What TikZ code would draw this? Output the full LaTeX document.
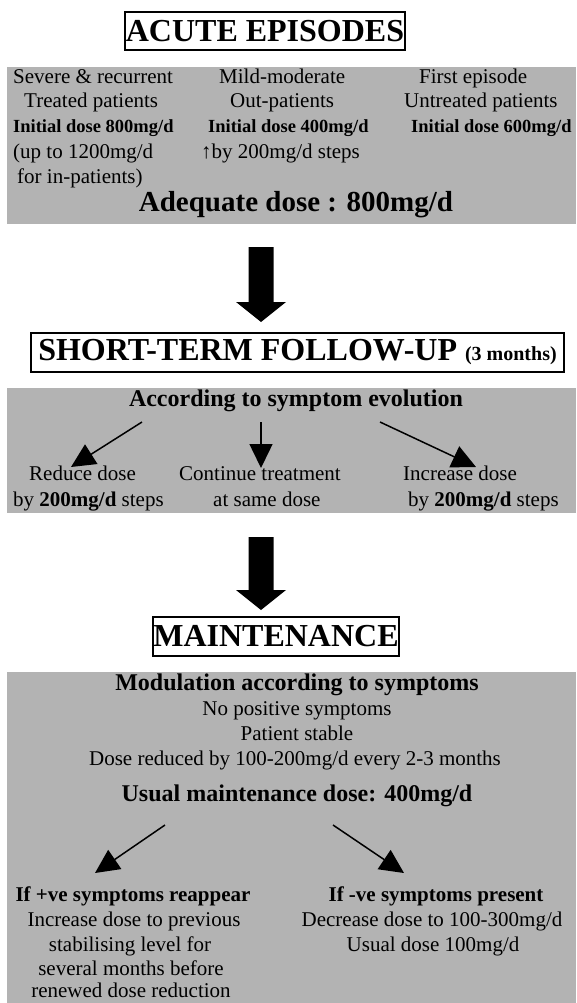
\documentclass[tikz,border=0pt]{standalone}
\usepackage{fontspec}
\setmainfont{Liberation Serif}
\usetikzlibrary{arrows.meta}
\definecolor{boxgray}{RGB}{179,179,179}
\begin{document}
\begin{tikzpicture}[x=1pt,y=-1pt,
  panel/.style={fill=boxgray, draw=none, anchor=north west, inner sep=0pt, outer sep=0pt},
  titlebox/.style={draw=black, line width=2pt, inner sep=0pt, font=\bfseries\fontsize{32}{36}\selectfont},
  txt/.style={inner sep=0pt, text height=0.68em, text depth=0pt},
  reg/.style={txt, font=\fontsize{21}{25}\selectfont},
  sbold/.style={txt, font=\bfseries\fontsize{18.5}{22}\selectfont},
  headtxt/.style={txt, font=\bfseries\fontsize{24}{28}\selectfont},
  subhead/.style={txt, font=\bfseries\fontsize{21}{25}\selectfont},
  thinarrow/.style={line width=1.5pt, -{Triangle[length=24pt,width=23pt]}},
]
\useasboundingbox (0,0) rectangle (576,1003);

% ---------- panels ----------
\node[panel, minimum width=569pt, minimum height=157pt] (p1) at (7,67) {};
\node[panel, minimum width=569pt, minimum height=125pt] (p2) at (7,388) {};
\node[panel, minimum width=569pt, minimum height=331pt] (p3) at (7,672) {};

% ---------- titles ----------
\node[titlebox, minimum width=280pt, minimum height=38pt] (t1) at (265,31) {ACUTE EPISODES};
\node[titlebox, minimum width=533pt, minimum height=39pt] (t2) at (297.5,352.5)
  {SHORT-TERM FOLLOW-UP {\fontsize{20}{24}\selectfont (3 months)}};
\node[titlebox, minimum width=246pt, minimum height=39pt] (t3) at (276,636.5) {MAINTENANCE};

% ---------- panel 1 ----------
\node[reg, anchor=west] (c1a) at (13,80) {Severe \& recurrent};
\node[reg, anchor=west] (c2a) at (219,80) {Mild-moderate};
\node[reg, anchor=west] (c3a) at (419,80) {First episode};
\node[reg, anchor=west] (c1b) at (24,104) {Treated patients};
\node[reg, anchor=west] (c2b) at (230,104) {Out-patients};
\node[reg, anchor=west] (c3b) at (404,104) {Untreated patients};
\node[sbold, anchor=west] (c1c) at (13,129) {Initial dose 800mg/d};
\node[sbold, anchor=west] (c2c) at (208,129) {Initial dose 400mg/d};
\node[sbold, anchor=west] (c3c) at (411,129) {Initial dose 600mg/d};
\node[reg, anchor=west] (c1d) at (13,155) {(up to 1200mg/d};
\node[reg, anchor=west] (c2d) at (201,155) {↑by 200mg/d steps};
\node[reg, anchor=west] (c1e) at (17,180) {for in-patients)};
\node[txt, font=\bfseries\fontsize{29}{33}\selectfont] (adq) at (296,208) {Adequate dose : 800mg/d};

% ---------- big arrow 1 ----------
\coordinate (ba1) at (261,247);
\coordinate (bt1) at (261,322);
\fill (ba1) ++(-12.5,0) -- ++(25,0) -- ++(0,55) -- ++(12.5,0) -- (bt1) -- ++(-25,-20) -- ++(12.5,0) -- cycle;

% ---------- panel 2 ----------
\node[headtxt] (acc) at (296,403) {According to symptom evolution};
\node[reg, anchor=west] (red1) at (29,477) {Reduce dose};
\node[reg, anchor=west] (red2) at (13,503) {by \textbf{200mg/d} steps};
\node[reg, anchor=west] (con1) at (179,477) {Continue treatment};
\node[reg, anchor=west] (con2) at (213,503) {at same dose};
\node[reg, anchor=west] (inc1) at (403,477) {Increase dose};
\node[reg, anchor=west] (inc2) at (408,503) {by \textbf{200mg/d} steps};

\coordinate (s2a) at (142,422); \coordinate (e2a) at (71,467);
\coordinate (s2b) at (261,422); \coordinate (e2b) at (261,468);
\coordinate (s2c) at (380,422); \coordinate (e2c) at (476,467);
\draw[thinarrow] (s2a) -- (e2a);
\draw[thinarrow] (s2b) -- (e2b);
\draw[thinarrow] (s2c) -- (e2c);

% ---------- big arrow 2 ----------
\coordinate (ba2) at (261,537);
\coordinate (bt2) at (261,610);
\fill (ba2) ++(-12.5,0) -- ++(25,0) -- ++(0,53) -- ++(12.5,0) -- (bt2) -- ++(-25,-20) -- ++(12.5,0) -- cycle;

% ---------- panel 3 ----------
\node[headtxt] (mod) at (297,687) {Modulation according to symptoms};
\node[reg] (m1) at (297,712) {No positive symptoms};
\node[reg] (m2) at (297,737) {Patient stable};
\node[reg] (m3) at (295,762) {Dose reduced by 100-200mg/d every 2-3 months};
\node[headtxt] (usual) at (297,798) {Usual maintenance dose: 400mg/d};

\coordinate (s3a) at (165,825); \coordinate (e3a) at (95,873);
\coordinate (s3b) at (333,825); \coordinate (e3b) at (404,873);
\draw[thinarrow] (s3a) -- (e3a);
\draw[thinarrow] (s3b) -- (e3b);

\node[subhead] (pos0) at (133,898) {If +ve symptoms reappear};
\node[reg] (pos1) at (134,923) {Increase dose to previous};
\node[reg] (pos2) at (130,948) {stabilising level for};
\node[reg] (pos3) at (131,972) {several months before};
\node[reg] (pos4) at (131,994) {renewed dose reduction};

\node[subhead] (neg0) at (436,898) {If -ve symptoms present};
\node[reg] (neg1) at (432,923) {Decrease dose to 100-300mg/d};
\node[reg] (neg2) at (433,948) {Usual dose 100mg/d};
\end{tikzpicture}
\end{document}
